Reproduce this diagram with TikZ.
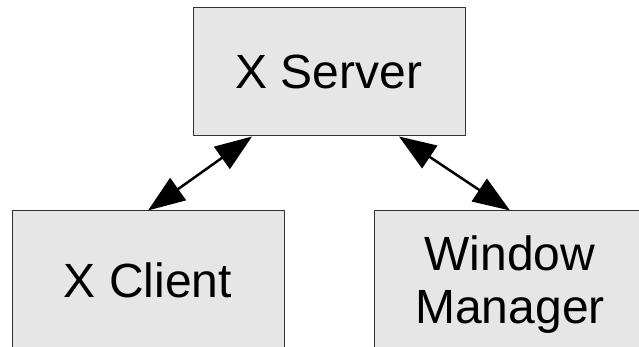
\documentclass[tikz,border=0pt]{standalone}
\usepackage{fontspec}
\setmainfont{Liberation Sans}
\usetikzlibrary{arrows.meta}
\usetikzlibrary{positioning}
\usetikzlibrary{calc}
\definecolor{boxfill}{HTML}{E6E6E6}
\definecolor{boxline}{HTML}{333333}

\begin{document}
\begin{tikzpicture}[x=1pt,y=-1pt,
box/.style={draw=boxline, fill=boxfill, line width=1pt,
minimum width=272pt, minimum height=138pt, align=center,
font=\fontsize{48}{53}\selectfont, inner sep=0pt},
link/.style={line width=2.5pt, {Triangle[length=37pt,width=27pt]}-{Triangle[length=37pt,width=27pt]}}]
\useasboundingbox (0,0) rectangle (639,347);
\node[box, minimum height=128pt] (server) at (329,72) {X Server};
\node[box] (client) at (148,280) {X Client};
\node[box, text depth=0pt] (wm) at (510,280) {Window\\Manager};
\draw[link] ($(server.south)+(-77pt,0)$) -- (client.north);
\draw[link] ($(server.south)+(70pt,0)$) -- (wm.north);
\end{tikzpicture}
\end{document}
